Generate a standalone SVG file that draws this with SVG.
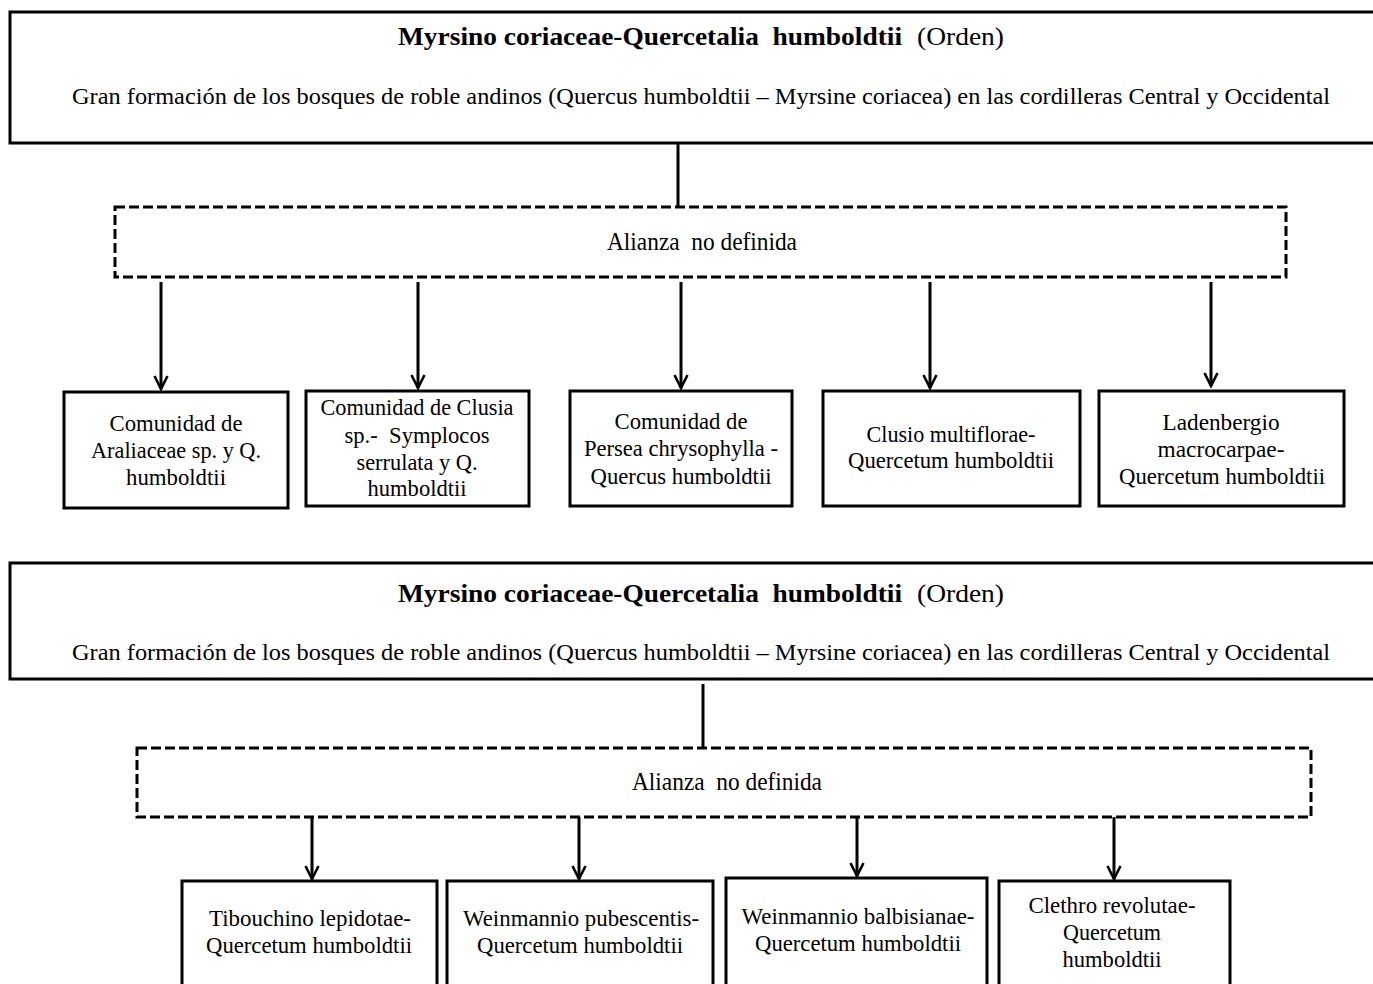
<svg xmlns="http://www.w3.org/2000/svg" width="1373" height="984" viewBox="0 0 1373 984">
  <defs>
    <style>
      .box { fill: #ffffff; stroke: #000000; stroke-width: 3; }
      .open { fill: none; stroke: #000000; stroke-width: 3; }
      .dash { fill: none; stroke: #000000; stroke-width: 3; stroke-dasharray: 10 4; }
      .link { fill: none; stroke: #000000; stroke-width: 3; }
      text { font-family: "Liberation Serif", "Times New Roman", serif; fill: #000000; white-space: pre; }
      .ttl { font-size: 26px; font-weight: bold; }
      .ord { font-size: 26px; }
      .sub { font-size: 24px; }
      .ali { font-size: 25px; text-anchor: middle; }
      .lbl { font-size: 24px; text-anchor: middle; }
    </style>
    <marker id="arrow" markerUnits="userSpaceOnUse" markerWidth="16" markerHeight="16" viewBox="0 0 16 16" refX="14" refY="8" orient="auto">
      <path d="M1,1.5 L14,8 L1,14.5" fill="none" stroke="#000000" stroke-width="2.6"/>
    </marker>
  </defs>

  <rect width="1373" height="984" fill="#ffffff"/>

  <!-- connectors -->
  <g id="connectors">
    <line class="link" x1="678" y1="143" x2="678" y2="207"/>
    <line class="link" x1="161" y1="282" x2="161" y2="389" marker-end="url(#arrow)"/>
    <line class="link" x1="418" y1="282" x2="418" y2="388" marker-end="url(#arrow)"/>
    <line class="link" x1="681" y1="282" x2="681" y2="388" marker-end="url(#arrow)"/>
    <line class="link" x1="930" y1="282" x2="930" y2="388" marker-end="url(#arrow)"/>
    <line class="link" x1="1211" y1="282" x2="1211" y2="386" marker-end="url(#arrow)"/>

    <line class="link" x1="703" y1="684" x2="703" y2="748"/>
    <line class="link" x1="312" y1="817" x2="312" y2="879" marker-end="url(#arrow)"/>
    <line class="link" x1="579" y1="817" x2="579" y2="879" marker-end="url(#arrow)"/>
    <line class="link" x1="857" y1="817" x2="857" y2="876" marker-end="url(#arrow)"/>
    <line class="link" x1="1114" y1="817" x2="1114" y2="879" marker-end="url(#arrow)"/>
  </g>

  <!-- upper chart: the order box runs off the right edge of the page -->
  <g id="orden-1">
    <path class="open" d="M1373,12 H10 V143 H1373"/>
    <text class="ttl" x="398" y="45" textLength="504" lengthAdjust="spacingAndGlyphs">Myrsino coriaceae-Quercetalia  humboldtii</text>
    <text class="ord" x="917" y="45" textLength="87" lengthAdjust="spacingAndGlyphs">(Orden)</text>
    <text class="sub" x="72" y="104" textLength="1258" lengthAdjust="spacingAndGlyphs">Gran formación de los bosques de roble andinos (Quercus humboldtii – Myrsine coriacea) en las cordilleras Central y Occidental</text>
  </g>

  <g id="alianza-1">
    <rect class="dash" x="115" y="207" width="1171" height="70"/>
    <text class="ali" x="702" y="250" textLength="190" lengthAdjust="spacingAndGlyphs">Alianza  no definida</text>
  </g>

  <g id="araliaceae">
    <rect class="box" x="64" y="392" width="224" height="116"/>
    <text class="lbl" x="176" y="431" textLength="133" lengthAdjust="spacingAndGlyphs">Comunidad de</text>
    <text class="lbl" x="176" y="458" textLength="170" lengthAdjust="spacingAndGlyphs">Araliaceae sp. y Q.</text>
    <text class="lbl" x="176" y="485" textLength="100" lengthAdjust="spacingAndGlyphs">humboldtii</text>
  </g>

  <g id="clusia-symplocos">
    <rect class="box" x="306" y="391" width="223" height="115"/>
    <text class="lbl" x="417" y="415" textLength="193" lengthAdjust="spacingAndGlyphs">Comunidad de Clusia</text>
    <text class="lbl" x="417" y="443" textLength="145" lengthAdjust="spacingAndGlyphs">sp.-  Symplocos</text>
    <text class="lbl" x="417" y="470" textLength="121" lengthAdjust="spacingAndGlyphs">serrulata y Q.</text>
    <text class="lbl" x="417" y="496" textLength="99" lengthAdjust="spacingAndGlyphs">humboldtii</text>
  </g>

  <g id="persea">
    <rect class="box" x="570" y="391" width="222" height="115"/>
    <text class="lbl" x="681" y="429" textLength="133" lengthAdjust="spacingAndGlyphs">Comunidad de</text>
    <text class="lbl" x="681" y="456" textLength="194" lengthAdjust="spacingAndGlyphs">Persea chrysophylla -</text>
    <text class="lbl" x="681" y="484" textLength="181" lengthAdjust="spacingAndGlyphs">Quercus humboldtii</text>
  </g>

  <g id="clusio">
    <rect class="box" x="823" y="391" width="257" height="115"/>
    <text class="lbl" x="951" y="442" textLength="169" lengthAdjust="spacingAndGlyphs">Clusio multiflorae-</text>
    <text class="lbl" x="951" y="468" textLength="206" lengthAdjust="spacingAndGlyphs">Quercetum humboldtii</text>
  </g>

  <g id="ladenbergio">
    <rect class="box" x="1099" y="391" width="245" height="115"/>
    <text class="lbl" x="1221" y="430" textLength="117" lengthAdjust="spacingAndGlyphs">Ladenbergio</text>
    <text class="lbl" x="1221" y="457" textLength="127" lengthAdjust="spacingAndGlyphs">macrocarpae-</text>
    <text class="lbl" x="1222" y="484" textLength="206" lengthAdjust="spacingAndGlyphs">Quercetum humboldtii</text>
  </g>

  <!-- lower chart -->
  <g id="orden-2">
    <path class="open" d="M1373,563 H10 V679 H1373"/>
    <text class="ttl" x="398" y="602" textLength="504" lengthAdjust="spacingAndGlyphs">Myrsino coriaceae-Quercetalia  humboldtii</text>
    <text class="ord" x="917" y="602" textLength="87" lengthAdjust="spacingAndGlyphs">(Orden)</text>
    <text class="sub" x="72" y="660" textLength="1258" lengthAdjust="spacingAndGlyphs">Gran formación de los bosques de roble andinos (Quercus humboldtii – Myrsine coriacea) en las cordilleras Central y Occidental</text>
  </g>

  <g id="alianza-2">
    <rect class="dash" x="137" y="748" width="1174" height="69"/>
    <text class="ali" x="727" y="790" textLength="190" lengthAdjust="spacingAndGlyphs">Alianza  no definida</text>
  </g>

  <g id="tibouchino">
    <rect class="box" x="182" y="881" width="255" height="120"/>
    <text class="lbl" x="310" y="926" textLength="202" lengthAdjust="spacingAndGlyphs">Tibouchino lepidotae-</text>
    <text class="lbl" x="309" y="953" textLength="206" lengthAdjust="spacingAndGlyphs">Quercetum humboldtii</text>
  </g>

  <g id="weinmannio-pubescentis">
    <rect class="box" x="447" y="881" width="266" height="120"/>
    <text class="lbl" x="581" y="926" textLength="236" lengthAdjust="spacingAndGlyphs">Weinmannio pubescentis-</text>
    <text class="lbl" x="580" y="953" textLength="206" lengthAdjust="spacingAndGlyphs">Quercetum humboldtii</text>
  </g>

  <g id="weinmannio-balbisianae">
    <rect class="box" x="726" y="878" width="261" height="123"/>
    <text class="lbl" x="858" y="924" textLength="233" lengthAdjust="spacingAndGlyphs">Weinmannio balbisianae-</text>
    <text class="lbl" x="858" y="951" textLength="206" lengthAdjust="spacingAndGlyphs">Quercetum humboldtii</text>
  </g>

  <g id="clethro">
    <rect class="box" x="999" y="881" width="231" height="120"/>
    <text class="lbl" x="1112" y="913" textLength="167" lengthAdjust="spacingAndGlyphs">Clethro revolutae-</text>
    <text class="lbl" x="1112" y="940" textLength="98" lengthAdjust="spacingAndGlyphs">Quercetum</text>
    <text class="lbl" x="1112" y="967" textLength="99" lengthAdjust="spacingAndGlyphs">humboldtii</text>
  </g>
</svg>
